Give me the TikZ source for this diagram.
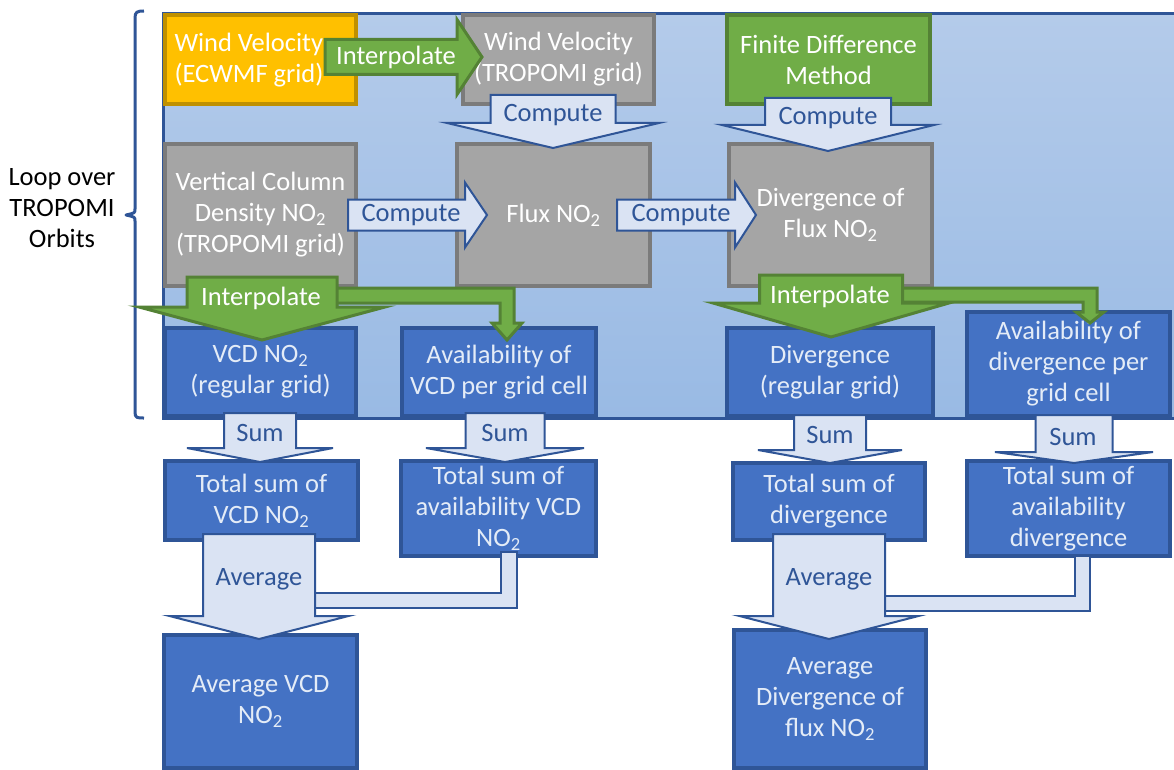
\documentclass[tikz,border=0pt]{standalone}
\usepackage{fontspec}
\setmainfont{Carlito}
\definecolor{dkblue}{HTML}{2F5597}
\definecolor{boxblue}{HTML}{4472C4}
\definecolor{ltblue}{HTML}{DAE3F3}
\definecolor{panelTop}{RGB}{180,203,234}
\definecolor{panelBot}{RGB}{153,186,228}
\definecolor{grayfill}{HTML}{A5A5A5}
\definecolor{grayline}{HTML}{7B7B7B}
\definecolor{orfill}{HTML}{FFC000}
\definecolor{orline}{HTML}{BF9000}
\definecolor{grfill}{HTML}{70AD47}
\definecolor{grline}{HTML}{548235}
\definecolor{lighttext}{HTML}{E4ECF7}
\newcommand{\bxfont}{\fontsize{26.5}{31}\selectfont}
% name, style, x1, y1, x2, y2, text
\newcommand{\mkbox}[7]{%
  \pgfmathsetmacro{\bxw}{#5-#3-4}\pgfmathsetmacro{\bxh}{#6-#4-4}%
  \pgfmathsetmacro{\bxx}{(#3+#5)/2}\pgfmathsetmacro{\bxy}{(#4+#6)/2}%
  \node[#2, minimum width=\bxw pt, minimum height=\bxh pt] (#1) at (\bxx,\bxy) {#7};}
% style, cx, top, halfbody, headtop, halfhead, tip
\newcommand{\blockdown}[7]{\draw[#1] ({#2-#4},#3) -- ({#2+#4},#3) -- ({#2+#4},#5) -- ({#2+#6},#5) -- (#2,#7) -- ({#2-#6},#5) -- ({#2-#4},#5) -- cycle;}
% style, cy, left, halfbody, headx, halfhead, tip
\newcommand{\blockright}[7]{\draw[#1] (#3,{#2-#4}) -- (#5,{#2-#4}) -- (#5,{#2-#6}) -- (#7,#2) -- (#5,{#2+#6}) -- (#5,{#2+#4}) -- (#3,{#2+#4}) -- cycle;}
\tikzset{
  box/.style={draw, line width=4pt, align=center, inner sep=0pt, font=\bxfont},
  bluebox/.style={box, fill=boxblue, draw=dkblue, text=lighttext},
  graybox/.style={box, fill=grayfill, draw=grayline, text=white},
  orbox/.style={box, fill=orfill, draw=orline, text=white},
  grbox/.style={box, fill=grfill, draw=grline, text=white},
  larrow/.style={fill=ltblue, draw=dkblue, line width=2pt},
  garrow/.style={fill=grfill, draw=grline, line width=3pt},
  alabel/.style={text=dkblue, font=\bxfont, inner sep=0pt},
  glabel/.style={text=white, font=\bxfont, inner sep=0pt},
}
\begin{document}
\begin{tikzpicture}[x=1pt,y=-1pt]
\clip (0,0) rectangle (1174,770);
\fill[white] (0,0) rectangle (1174,770);
% panel
\shade[top color=panelTop, bottom color=panelBot] (163,14) rectangle (1190,418);
\draw[dkblue, line width=3pt] (163,14) rectangle (1190,418);
% bracket
\draw[dkblue, line width=3pt, line join=round] (144,11) .. controls (137,11) and (135,12) .. (135,18) -- (135,209) .. controls (135,213) .. (126,215) .. controls (135,217) .. (135,221) -- (135,412) .. controls (135,418) and (137,418) .. (144,418);
\node[font=\bxfont, align=center, inner sep=0pt] (loop) at (62,208) {Loop over\\TROPOMI\\Orbits};
% boxes
\mkbox{ecwmf}{orbox}{163}{13}{358}{106}{}
\node[font=\bxfont, text=white, align=left, inner sep=0pt] (ecwmftext) at (249,60) {Wind Velocity\\(ECWMF grid)};
\mkbox{windt}{graybox}{461}{13}{656}{106}{Wind Velocity\\(TROPOMI grid)}
\mkbox{fdm}{grbox}{725}{13}{932}{106}{Finite Difference\\Method}
\mkbox{vcdt}{graybox}{163}{142}{358}{288}{Vertical Column\\Density NO\textsubscript{2}\\(TROPOMI grid)}
\mkbox{flux}{graybox}{455}{142}{652}{288}{Flux NO\textsubscript{2}}
\mkbox{div}{graybox}{727}{142}{934}{288}{Divergence of\\Flux NO\textsubscript{2}}
\mkbox{vcdreg}{bluebox}{163}{326}{358}{418}{VCD NO\textsubscript{2}\\(regular grid)}
\mkbox{availvcd}{bluebox}{400}{326}{598}{418}{Availability of\\VCD per grid cell}
\mkbox{divreg}{bluebox}{725}{326}{935}{418}{Divergence\\(regular grid)}
\mkbox{availdiv}{bluebox}{965}{310}{1172}{418}{Availability of\\divergence per\\grid cell}
\mkbox{sumvcd}{bluebox}{163}{459}{360}{542}{Total sum of\\VCD NO\textsubscript{2}}
\mkbox{sumavail}{bluebox}{399}{459}{598}{558}{Total sum of\\availability VCD\\NO\textsubscript{2}}
\mkbox{sumdiv}{bluebox}{731}{461}{927}{542}{Total sum of\\divergence}
\mkbox{sumavaildiv}{bluebox}{965}{459}{1172}{558}{Total sum of\\availability\\divergence}
\mkbox{avgvcd}{bluebox}{162}{633}{359}{770}{Average VCD\\NO\textsubscript{2}}
\mkbox{avgdiv}{bluebox}{732}{628}{928}{770}{Average\\Divergence of\\flux NO\textsubscript{2}}
% interpolate (top)
\blockright{garrow}{57}{325}{17.5}{457}{37.5}{482}
\node[glabel] (interpA) at (396,57) {Interpolate};
% compute arrows
\blockdown{larrow}{553}{95}{62.5}{123}{106}{148}
\node[alabel] (compB) at (553,115) {Compute};
\blockdown{larrow}{828}{98}{63}{125}{106}{151}
\node[alabel] (compC) at (828,118) {Compute};
\blockright{larrow}{215}{348}{15.5}{465}{32.5}{487}
\node[alabel] (compD) at (411,215) {Compute};
\blockright{larrow}{215}{617}{15.5}{735}{32.5}{756}
\node[alabel] (compE) at (681,215) {Compute};
% interpolate (left) with branch
\draw[garrow] (330,288) -- (514,288) -- (514,323) -- (522,323) -- (507,340) -- (492,323) -- (500,323) -- (500,303) -- (330,303) -- cycle;
\blockdown{garrow}{262}{277}{75}{307}{123}{340}
\node[glabel] (interpF) at (261,298) {Interpolate};
% interpolate (right) with branch
\draw[garrow] (896,288) -- (1097,288) -- (1097,312) -- (1104,312) -- (1090,323) -- (1076,312) -- (1083,312) -- (1083,302) -- (896,302) -- cycle;
\blockdown{garrow}{831}{275}{71.5}{303}{118}{337}
\node[glabel] (interpG) at (830,296) {Interpolate};
% sum arrows
\blockdown{larrow}{260}{413}{36}{448}{73}{462}
\node[alabel] (sumA) at (260,433) {Sum};
\blockdown{larrow}{505}{413}{39.5}{448}{79}{462}
\node[alabel] (sumB) at (505,433) {Sum};
\blockdown{larrow}{830}{415}{36}{450}{72}{463}
\node[alabel] (sumC) at (830,435) {Sum};
\blockdown{larrow}{1074}{415}{38.5}{452}{79}{463}
\node[alabel] (sumD) at (1073,437) {Sum};
% average arrows with merging branches
\draw[larrow] (310,593) -- (501,593) -- (501,552) -- (517,552) -- (517,608) -- (310,608) -- cycle;
\blockdown{larrow}{259}{534}{56}{616}{89.5}{639}
\node[alabel] (avgA) at (259,579) {Average};
\draw[larrow] (880,596) -- (1075,596) -- (1075,556) -- (1090,556) -- (1090,611) -- (880,611) -- cycle;
\blockdown{larrow}{829}{534}{56}{616}{89.5}{639}
\node[alabel] (avgB) at (829,579) {Average};
\end{tikzpicture}
\end{document}
